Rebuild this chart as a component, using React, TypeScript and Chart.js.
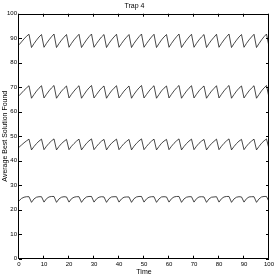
import React, { useEffect, useRef } from "react";
import { Chart, registerables } from "chart.js";

Chart.register(...registerables);

const chartTitle = "Trap 4";
const xAxisTitle = "Time";
const yAxisTitle = "Average Best Solution Found";
const xTicks = [0, 10, 20, 30, 40, 50, 60, 70, 80, 90, 100];
const yTicks = [0, 10, 20, 30, 40, 50, 60, 70, 80, 90, 100];

const times = [
  0, 1, 2, 3, 4, 5, 6, 7, 8, 9, 10, 11, 12, 13, 14, 15, 16, 17, 18, 19,
  20, 21, 22, 23, 24, 25, 26, 27, 28, 29, 30, 31, 32, 33, 34, 35, 36, 37, 38, 39,
  40, 41, 42, 43, 44, 45, 46, 47, 48, 49, 50, 51, 52, 53, 54, 55, 56, 57, 58, 59,
  60, 61, 62, 63, 64, 65, 66, 67, 68, 69, 70, 71, 72, 73, 74, 75, 76, 77, 78, 79,
  80, 81, 82, 83, 84, 85, 86, 87, 88, 89, 90, 91, 92, 93, 94, 95, 96, 97, 98, 99,
  100,
];

const series1 = [
  87.3, 88.5, 89.7, 90.8, 91.6,
  86.2, 87.8, 89.2, 90.5, 91.5,
  86.3, 87.9, 89.3, 90.6, 91.7,
  86.2, 87.8, 89.2, 90.4, 91.5,
  86.3, 87.9, 89.3, 90.5, 91.6,
  86.2, 87.8, 89.3, 90.6, 91.7,
  86.3, 87.8, 89.2, 90.5, 91.5,
  86.2, 87.9, 89.3, 90.5, 91.6,
  86.3, 87.8, 89.2, 90.4, 91.5,
  86.2, 87.9, 89.3, 90.6, 91.7,
  86.3, 87.8, 89.2, 90.5, 91.6,
  86.2, 87.8, 89.3, 90.5, 91.5,
  86.3, 87.9, 89.3, 90.6, 91.7,
  86.2, 87.8, 89.2, 90.5, 91.6,
  86.3, 87.9, 89.3, 90.5, 91.5,
  86.2, 87.8, 89.2, 90.4, 91.6,
  86.3, 87.9, 89.3, 90.6, 91.7,
  86.2, 87.8, 89.2, 90.5, 91.5,
  86.3, 87.9, 89.3, 90.5, 91.6,
  86.2, 87.8, 89.3, 90.6, 91.7,
  86.6,
];

const series2 = [
  66.5, 67.6, 68.7, 69.7, 70.6,
  65.5, 67.0, 68.4, 69.6, 70.6,
  65.6, 67.1, 68.5, 69.7, 70.7,
  65.5, 67.0, 68.4, 69.5, 70.5,
  65.6, 67.1, 68.4, 69.6, 70.6,
  65.5, 67.0, 68.5, 69.7, 70.7,
  65.6, 67.0, 68.4, 69.6, 70.5,
  65.5, 67.1, 68.5, 69.6, 70.6,
  65.6, 67.0, 68.4, 69.5, 70.5,
  65.5, 67.1, 68.5, 69.7, 70.7,
  65.6, 67.0, 68.4, 69.6, 70.6,
  65.5, 67.0, 68.5, 69.6, 70.5,
  65.6, 67.1, 68.5, 69.7, 70.7,
  65.5, 67.0, 68.4, 69.6, 70.6,
  65.6, 67.1, 68.5, 69.6, 70.5,
  65.5, 67.0, 68.4, 69.5, 70.6,
  65.6, 67.1, 68.5, 69.7, 70.7,
  65.5, 67.0, 68.4, 69.6, 70.5,
  65.6, 67.1, 68.5, 69.6, 70.6,
  65.5, 67.0, 68.5, 69.7, 70.7,
  65.8,
];

const series3 = [
  45.5, 46.4, 47.3, 48.1, 48.8,
  44.4, 45.8, 47.0, 48.0, 48.8,
  44.5, 45.9, 47.1, 48.1, 48.9,
  44.4, 45.8, 47.0, 47.9, 48.7,
  44.5, 45.9, 47.0, 48.0, 48.8,
  44.4, 45.8, 47.1, 48.1, 48.9,
  44.5, 45.8, 47.0, 48.0, 48.7,
  44.4, 45.9, 47.1, 48.0, 48.8,
  44.5, 45.8, 47.0, 47.9, 48.7,
  44.4, 45.9, 47.1, 48.1, 48.9,
  44.5, 45.8, 47.0, 48.0, 48.8,
  44.4, 45.8, 47.1, 48.0, 48.7,
  44.5, 45.9, 47.1, 48.1, 48.9,
  44.4, 45.8, 47.0, 48.0, 48.8,
  44.5, 45.9, 47.1, 48.0, 48.7,
  44.4, 45.8, 47.0, 47.9, 48.8,
  44.5, 45.9, 47.1, 48.1, 48.9,
  44.4, 45.8, 47.0, 48.0, 48.7,
  44.5, 45.9, 47.1, 48.0, 48.8,
  44.4, 45.8, 47.1, 48.1, 48.9,
  44.8,
];

const series4 = [
  23.6, 24.6, 25.1, 25.3, 25.3,
  23.0, 24.4, 25.1, 25.3, 25.3,
  23.1, 24.5, 25.2, 25.4, 25.4,
  23.0, 24.4, 25.1, 25.3, 25.2,
  23.1, 24.5, 25.1, 25.3, 25.3,
  23.0, 24.4, 25.2, 25.4, 25.4,
  23.1, 24.4, 25.1, 25.3, 25.2,
  23.0, 24.5, 25.2, 25.3, 25.3,
  23.1, 24.4, 25.1, 25.2, 25.2,
  23.0, 24.5, 25.2, 25.4, 25.4,
  23.1, 24.4, 25.1, 25.3, 25.3,
  23.0, 24.4, 25.2, 25.3, 25.2,
  23.1, 24.5, 25.2, 25.4, 25.4,
  23.0, 24.4, 25.1, 25.3, 25.3,
  23.1, 24.5, 25.2, 25.3, 25.2,
  23.0, 24.4, 25.1, 25.2, 25.3,
  23.1, 24.5, 25.2, 25.4, 25.4,
  23.0, 24.4, 25.1, 25.3, 25.2,
  23.1, 24.5, 25.2, 25.3, 25.3,
  23.0, 24.4, 25.2, 25.4, 25.4,
  23.3,
];

const allSeries = [series1, series2, series3, series4];

const FONT = "'Liberation Sans', Arial, Helvetica, sans-serif";

const boxAndTicks = {
  id: "boxAndTicks",
  afterDatasetsDraw(chart: any) {
    const { ctx, chartArea, scales } = chart;
    const { left, right, top, bottom } = chartArea;
    const tl = 3;
    ctx.save();
    ctx.strokeStyle = "#000";
    ctx.lineWidth = 1;
    ctx.beginPath();
    ctx.rect(Math.round(left) - 0.5, Math.round(top) + 0.5, Math.round(right) - Math.round(left), Math.round(bottom) - Math.round(top) - 1);
    ctx.stroke();
    ctx.beginPath();
    for (const v of xTicks) {
      const x = Math.round(scales.x.getPixelForValue(v)) - 0.5;
      ctx.moveTo(x, bottom);
      ctx.lineTo(x, bottom - tl);
      ctx.moveTo(x, top);
      ctx.lineTo(x, top + tl);
    }
    for (const v of yTicks) {
      const y = Math.round(scales.y.getPixelForValue(v)) + 0.5;
      ctx.moveTo(left, y);
      ctx.lineTo(left + tl, y);
      ctx.moveTo(right, y);
      ctx.lineTo(right - tl, y);
    }
    ctx.stroke();
    ctx.restore();
  },
};

export default function App() {
  const ref = useRef<HTMLCanvasElement | null>(null);

  useEffect(() => {
    if (!ref.current) return;
    const chart = new Chart(ref.current, {
      type: "line",
      data: {
        datasets: allSeries.map((s, i) => ({
          label: "Series " + (i + 1),
          data: s.map((v, j) => ({ x: times[j], y: v })),
          borderColor: "#1a1a1a",
          borderWidth: 0.8,
          pointRadius: 0,
          tension: 0,
          fill: false,
        })),
      },
      options: {
        animation: false,
        responsive: false,
        devicePixelRatio: 1,
        layout: { padding: { left: 0, right: 8, top: 0, bottom: 0 } },
        plugins: {
          legend: { display: false },
          tooltip: { enabled: false },
          title: {
            display: true,
            text: chartTitle,
            color: "#000",
            font: { family: FONT, size: 7, weight: "normal", lineHeight: 1.2 },
            padding: { top: 2, bottom: 3.3 },
          },
        },
        scales: {
          x: {
            type: "linear",
            min: 0,
            max: 100,
            afterFit: (s: any) => {
              s.height = 18.3;
            },
            afterBuildTicks: (s: any) => {
              s.ticks = xTicks.map((v) => ({ value: v }));
            },
            grid: { display: false, drawTicks: false },
            border: { display: false },
            ticks: {
              color: "#000",
              font: { family: FONT, size: 6 },
              padding: 2,
              maxRotation: 0,
              autoSkip: false,
            },
            title: {
              display: true,
              text: xAxisTitle,
              color: "#000",
              font: { family: FONT, size: 7, lineHeight: 1.2 },
              padding: { top: 0, bottom: 1 },
            },
          },
          y: {
            type: "linear",
            min: 0,
            max: 100,
            afterFit: (s: any) => {
              s.width = 19;
            },
            afterBuildTicks: (s: any) => {
              s.ticks = yTicks.map((v) => ({ value: v }));
            },
            grid: { display: false, drawTicks: false },
            border: { display: false },
            ticks: {
              color: "#000",
              font: { family: FONT, size: 6 },
              padding: 2,
              autoSkip: false,
            },
            title: {
              display: true,
              text: yAxisTitle,
              color: "#000",
              font: { family: FONT, size: 7, lineHeight: 1.2 },
              padding: { top: 1.3, bottom: 0 },
            },
          },
        },
      },
      plugins: [boxAndTicks],
    });
    return () => chart.destroy();
  }, []);

  return (
    <div style={{ position: "absolute", left: 0, top: 0, width: 277, height: 277, background: "#fff" }}>
      <canvas ref={ref} width={277} height={277} style={{ display: "block" }} />
    </div>
  );
}
